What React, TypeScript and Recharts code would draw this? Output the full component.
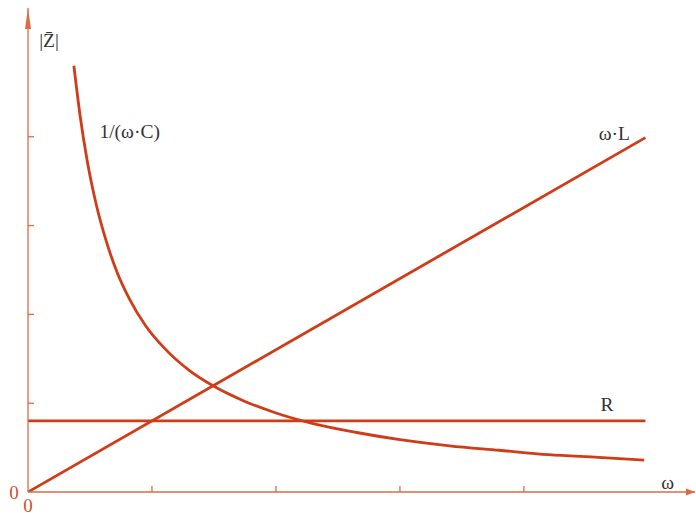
import React from 'react';
import { LineChart, Line, XAxis, YAxis, ReferenceDot } from 'recharts';

// 1/(ωC) curve
const omegaC = [0.37, 0.42, 0.48, 0.55, 0.63, 0.72, 0.82, 0.95, 1.1, 1.3, 1.5, 1.75, 2.0, 2.3, 2.65, 3.0, 3.4, 3.8, 4.2, 4.6, 4.97];
const capReactance = [4.8, 4.24, 3.71, 3.24, 2.83, 2.47, 2.17, 1.87, 1.62, 1.37, 1.19, 1.02, 0.89, 0.77, 0.67, 0.59, 0.52, 0.47, 0.42, 0.39, 0.36];
// ωL line
const omegaL = [0, 4.98];
const inductive = [0, 3.99];
// R line
const omegaR = [0, 4.98];
const resistance = [0.8, 0.8];

const xTicks = [0, 1, 2, 3, 4];
const yTicks = [0, 1, 2, 3, 4];
const X_MAX = 5.38;
const Y_MAX = 5.45;

const labelTexts = ['|Z\u0304|', '1/(\u03c9\u00b7C)', '\u03c9\u00b7L', 'R', '\u03c9'];
const labelX = [0.17, 0.82, 4.73, 4.67, 5.16];
const labelY = [5.08, 4.06, 4.04, 0.98, 0.11];

const capData = omegaC.map((w, i) => ({ w, v: capReactance[i] }));
const indData = omegaL.map((w, i) => ({ w, v: inductive[i] }));
const resData = omegaR.map((w, i) => ({ w, v: resistance[i] }));

const CURVE = '#d03c18';
const AXIS = '#dc6a48';
const ZERO = '#d0502c';
const TEXT = '#333333';
const SERIF = '"Liberation Serif", "DejaVu Serif", serif';

const XTick = (props: any) => {
  const { x, y, payload } = props;
  if (payload.value === 0) {
    return (
      <text x={x} y={y + 13} textAnchor="middle" dominantBaseline="central" fill={ZERO} fontSize={19} fontFamily={SERIF}>0</text>
    );
  }
  return <line x1={x} y1={y} x2={x} y2={y - 6} stroke={AXIS} strokeWidth={1.3} />;
};

const YTick = (props: any) => {
  const { x, y, payload } = props;
  if (payload.value === 0) {
    return (
      <text x={x - 14} y={y} textAnchor="middle" dominantBaseline="central" fill={ZERO} fontSize={19} fontFamily={SERIF}>0</text>
    );
  }
  return <line x1={x} y1={y} x2={x + 6} y2={y} stroke={AXIS} strokeWidth={1.3} />;
};

export default function App() {
  return (
    <div style={{ position: 'absolute', left: 0, top: 0 }}>
      <LineChart width={696} height={513} margin={{ top: 8, right: 1, bottom: 0, left: 0 }}>
        <XAxis
          type="number"
          dataKey="w"
          domain={[0, X_MAX]}
          allowDataOverflow
          ticks={xTicks}
          interval={0}
          height={21}
          tickSize={0}
          tickMargin={0}
          tickLine={false}
          tick={XTick}
          axisLine={{ stroke: AXIS, strokeWidth: 1.3 }}
        />
        <YAxis
          type="number"
          dataKey="v"
          domain={[0, Y_MAX]}
          allowDataOverflow
          ticks={yTicks}
          interval={0}
          width={28}
          tickSize={0}
          tickMargin={0}
          tickLine={false}
          tick={YTick}
          axisLine={{ stroke: AXIS, strokeWidth: 1.3 }}
        />
        <Line data={resData} dataKey="v" type="linear" stroke={CURVE} strokeWidth={2.8} dot={false} isAnimationActive={false} />
        <Line data={indData} dataKey="v" type="linear" stroke={CURVE} strokeWidth={2.8} dot={false} isAnimationActive={false} />
        <Line data={capData} dataKey="v" type="monotone" stroke={CURVE} strokeWidth={2.8} dot={false} isAnimationActive={false} />
        <ReferenceDot
          x={X_MAX}
          y={0}
          ifOverflow="visible"
          shape={(p: any) => (
            <path d={`M${p.cx},${p.cy} L${p.cx - 9},${p.cy - 3.5} L${p.cx - 9},${p.cy + 3.5} Z`} fill={AXIS} />
          )}
        />
        <ReferenceDot
          x={0}
          y={Y_MAX}
          ifOverflow="visible"
          shape={(p: any) => (
            <path d={`M${p.cx},${p.cy} L${p.cx - 3},${p.cy + 21} L${p.cx + 3},${p.cy + 21} Z`} fill={AXIS} />
          )}
        />
        {labelTexts.map((t, i) => (
          <ReferenceDot
            key={t}
            x={labelX[i]}
            y={labelY[i]}
            ifOverflow="visible"
            shape={(p: any) => (
              <text x={p.cx} y={p.cy} textAnchor="middle" dominantBaseline="central" fill={TEXT} fontSize={19.5} fontFamily={SERIF}>{t}</text>
            )}
          />
        ))}
      </LineChart>
    </div>
  );
}
